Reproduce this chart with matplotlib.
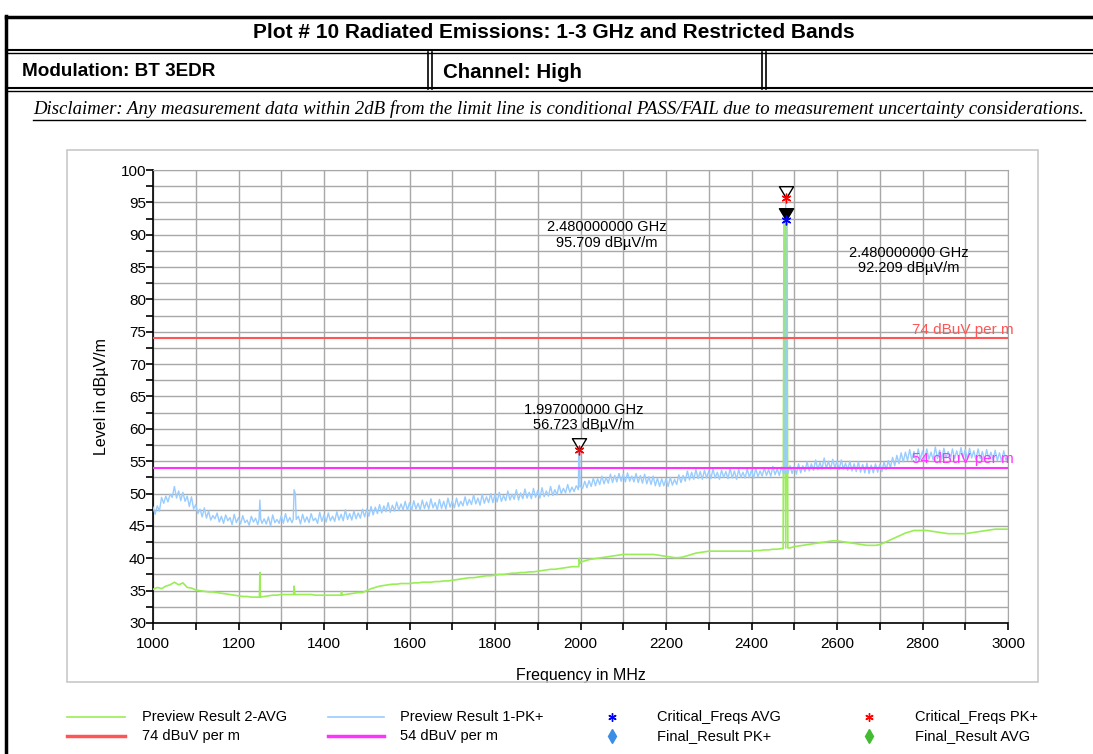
import numpy as np
import matplotlib
matplotlib.use('Agg')
import matplotlib.pyplot as plt
from matplotlib.lines import Line2D
from matplotlib.patches import Rectangle
from matplotlib.path import Path

# ---------------- data ----------------
freq_start = 1000

# Preview Result 1-PK+ (dBuV/m), one value every 5 MHz from 1000 to 3000 MHz
pk_step = 5
pk_grid = [
    47.9, 46.8, 48.1, 47.3, 49.4, 48.5, 49.6, 48.7, 49.9, 49.4, 51.1, 49.3, 50.4, 48.9, 50.2, 48.8, 49.6, 48.0, 49.5, 47.6,
    48.3, 46.9, 47.6, 46.4, 47.8, 46.2, 47.3, 45.9, 46.6, 46.1, 47.0, 45.6, 46.5, 45.4, 46.7, 45.8, 46.3, 45.2, 46.8, 45.5,
    46.3, 45.3, 46.6, 45.5, 45.9, 45.1, 46.5, 45.6, 46.2, 45.2, 46.8, 45.4, 46.1, 45.3, 46.4, 45.0, 46.7, 45.5, 46.0, 45.4,
    46.6, 45.4, 46.9, 45.6, 46.3, 45.5, 47.0, 45.7, 46.5, 45.3, 46.8, 45.6, 46.4, 45.5, 46.9, 45.8, 46.2, 45.4, 47.1, 45.7,
    46.7, 45.6, 47.0, 45.8, 46.5, 45.7, 47.2, 45.9, 46.8, 45.8, 47.5, 46.0, 46.9, 45.9, 47.3, 46.1, 47.0, 46.2, 47.6, 46.4,
    47.6, 46.5, 48.0, 46.7, 47.9, 46.9, 48.3, 47.0, 48.1, 47.2, 48.6, 47.1, 48.2, 47.3, 48.7, 47.4, 48.4, 47.5, 48.8, 47.4,
    48.6, 47.4, 48.9, 47.6, 48.5, 47.5, 49.0, 47.7, 48.7, 47.6, 49.2, 47.8, 48.6, 47.5, 49.1, 47.7, 48.8, 47.6, 49.3, 47.9,
    48.9, 47.8, 49.3, 48.0, 48.8, 48.1, 49.5, 48.2, 49.1, 48.3, 49.8, 48.4, 49.3, 48.2, 49.9, 48.5, 49.5, 48.6, 50.0, 48.6,
    49.9, 48.7, 50.2, 48.8, 49.7, 48.9, 50.4, 49.0, 49.9, 49.1, 50.6, 49.0, 50.1, 49.2, 50.7, 49.3, 50.2, 49.2, 50.8, 49.4,
    50.5, 49.3, 50.9, 49.5, 50.4, 49.6, 51.1, 49.7, 50.6, 49.8, 51.3, 50.0, 50.8, 50.1, 51.4, 50.2, 51.0, 50.3, 51.2, 50.6,
    51.2, 50.8, 51.9, 50.9, 52.0, 51.1, 52.4, 51.2, 52.3, 51.4, 52.7, 51.5, 52.5, 51.6, 53.0, 51.7, 52.8, 51.8, 53.1, 51.9,
    53.0, 51.8, 53.2, 51.9, 52.7, 51.8, 53.1, 51.7, 52.8, 51.6, 53.0, 51.5, 52.6, 51.4, 52.7, 51.2, 52.4, 51.1, 52.3, 51.2,
    52.3, 51.1, 52.5, 51.3, 52.2, 51.4, 52.9, 51.7, 52.8, 51.9, 53.5, 52.1, 53.3, 52.2, 53.7, 52.3, 53.4, 52.2, 53.6, 52.4,
    53.5, 52.3, 53.8, 52.4, 53.3, 52.2, 53.6, 52.5, 53.4, 52.3, 53.9, 52.4, 53.5, 52.2, 53.7, 52.5, 53.3, 52.4, 53.8, 52.5,
    53.6, 52.4, 53.9, 52.6, 53.5, 52.7, 54.0, 52.8, 53.7, 52.7, 54.2, 52.9, 53.8, 52.8, 54.1, 53.0, 53.4, 53.1, 54.3, 53.1,
    54.2, 53.0, 54.6, 53.2, 54.3, 53.4, 54.9, 53.5, 54.6, 53.6, 55.2, 53.7, 54.8, 53.8, 55.5, 53.9, 55.0, 53.8, 55.3, 54.0,
    55.0, 53.7, 55.2, 53.8, 54.7, 53.6, 55.0, 53.5, 54.6, 53.4, 54.9, 53.3, 54.5, 53.2, 54.7, 53.1, 54.4, 53.2, 54.6, 53.3,
    54.5, 53.4, 54.9, 53.7, 55.1, 54.0, 55.6, 54.3, 55.9, 54.6, 56.3, 54.9, 56.4, 55.1, 56.8, 55.2, 56.5, 55.0, 56.9, 55.3,
    56.6, 55.1, 56.9, 55.3, 56.4, 55.2, 57.2, 55.4, 56.7, 55.3, 57.0, 55.5, 56.5, 55.2, 56.9, 55.4, 56.6, 55.3, 57.1, 55.5,
    56.8, 55.3, 57.0, 55.5, 56.6, 55.2, 56.9, 55.4, 56.5, 55.1, 56.8, 55.3, 56.4, 55.2, 56.7, 55.1, 56.3, 55.0, 56.6, 55.2,
    55.8,
]
pk_spike_f = [1248, 1250, 1252, 1328, 1330, 1333, 1335,
              1994, 1996, 1998, 1999, 2478, 2480, 2482]
pk_spike_v = [46.0, 49.0, 46.0, 46.0, 50.6, 50.0, 46.0,
              50.8, 56.7, 56.5, 51.0, 53.3, 95.709, 53.4]

# Preview Result 2-AVG (dBuV/m), one value every 10 MHz from 1000 to 3000 MHz
avg_step = 10
avg_grid = [
    35.2, 35.5, 35.3, 35.7, 35.9, 36.3, 35.9, 36.2, 35.5, 35.4,
    35.1, 35.0, 34.9, 34.8, 34.8, 34.7, 34.6, 34.5, 34.4, 34.3,
    34.2, 34.1, 34.1, 34.0, 34.0, 34.0, 34.1, 34.2, 34.3, 34.3,
    34.4, 34.4, 34.4, 34.4, 34.4, 34.4, 34.4, 34.4, 34.3, 34.3,
    34.3, 34.3, 34.3, 34.3, 34.3, 34.4, 34.5, 34.6, 34.7, 34.7,
    35.0, 35.3, 35.5, 35.7, 35.8, 35.9, 36.0, 36.0, 36.1, 36.1,
    36.1, 36.2, 36.2, 36.3, 36.3, 36.3, 36.4, 36.4, 36.5, 36.5,
    36.6, 36.7, 36.8, 36.9, 37.0, 37.0, 37.1, 37.2, 37.3, 37.3,
    37.4, 37.5, 37.5, 37.6, 37.7, 37.7, 37.8, 37.8, 37.9, 37.9,
    38.0, 38.1, 38.2, 38.3, 38.3, 38.4, 38.5, 38.6, 38.7, 38.7,
    39.4, 39.6, 39.8, 39.9, 40.0, 40.1, 40.2, 40.3, 40.4, 40.5,
    40.6, 40.6, 40.6, 40.6, 40.6, 40.6, 40.6, 40.6, 40.5, 40.4,
    40.3, 40.2, 40.1, 40.1, 40.2, 40.4, 40.6, 40.8, 40.9, 41.0,
    41.1, 41.1, 41.1, 41.1, 41.1, 41.1, 41.1, 41.1, 41.1, 41.1,
    41.1, 41.2, 41.2, 41.3, 41.3, 41.4, 41.4, 41.5, 41.6, 41.6,
    41.8, 41.9, 42.0, 42.1, 42.2, 42.3, 42.4, 42.5, 42.6, 42.7,
    42.7, 42.6, 42.5, 42.4, 42.3, 42.2, 42.1, 42.0, 42.0, 42.0,
    42.1, 42.4, 42.7, 43.0, 43.3, 43.6, 43.9, 44.1, 44.3, 44.3,
    44.3, 44.3, 44.2, 44.1, 44.0, 43.9, 43.8, 43.8, 43.8, 43.8,
    43.8, 43.9, 44.0, 44.1, 44.2, 44.3, 44.4, 44.5, 44.5, 44.5,
    44.5,
]
avg_spike_f = [1249, 1250, 1251, 1329, 1330, 1332, 1440, 1441, 1442,
               1996, 1997, 1999, 2474, 2476, 2483, 2485]
avg_spike_v = [34.0, 37.8, 34.0, 34.4, 35.7, 34.4, 34.3, 34.9, 34.3,
               38.7, 40.0, 39.2, 41.5, 92.209, 92.0, 41.6]

limit_pk = 74.0
limit_avg = 54.0
limit_pk_label = "74 dBuV per m"
limit_avg_label = "54 dBuV per m"

crit_pk_f = [1997, 2480]
crit_pk_v = [56.723, 95.709]
crit_avg_f = [2480]
crit_avg_v = [92.209]

ann_text = ["2.480000000 GHz\n95.709 dBµV/m",
            "2.480000000 GHz\n92.209 dBµV/m",
            "1.997000000 GHz\n56.723 dBµV/m"]
ann_pos_f = [2062, 2768, 2008]
ann_pos_v = [90.0, 86.0, 61.75]

xticks = [1000, 1200, 1400, 1600, 1800, 2000, 2200, 2400, 2600, 2800, 3000]
yticks = [30, 35, 40, 45, 50, 55, 60, 65, 70, 75, 80, 85, 90, 95, 100]

title_text = "Plot # 10 Radiated Emissions: 1-3 GHz and Restricted Bands"
mod_text = "Modulation: BT 3EDR"
chan_text = "Channel: High"
disclaimer = ("Disclaimer: Any measurement data within 2dB from the limit line is "
              "conditional PASS/FAIL due to measurement uncertainty considerations.")

legend_labels = ["Preview Result 2-AVG", "74 dBuV per m",
                 "Preview Result 1-PK+", "54 dBuV per m",
                 "Critical_Freqs AVG", "Final_Result PK+",
                 "Critical_Freqs PK+", "Final_Result AVG"]


def merge(grid, step, sf, sv):
    d = {freq_start + i * step: v for i, v in enumerate(grid)}
    for f, v in zip(sf, sv):
        d[f] = v
    ks = sorted(d)
    return np.array(ks, float), np.array([d[k] for k in ks])


pk_f, pk_v = merge(pk_grid, pk_step, pk_spike_f, pk_spike_v)
avg_f, avg_v = merge(avg_grid, avg_step, avg_spike_f, avg_spike_v)

# ---------------- styling ----------------
W, H = 1093, 754
plt.rcParams['font.family'] = ['Liberation Sans', 'DejaVu Sans']
C_BLUE = '#99ccff'
C_GREEN = '#99ee55'
C_RED = '#ff5555'
C_MAG = '#ff33ff'
C_GRID = '#a8a8a8'

fig = plt.figure(figsize=(W / 100, H / 100), dpi=100)


def fx(x):
    return x / W


def fy(y):
    return 1 - y / H


def hline(y, x0, x1, lw=1.5, color='black'):
    fig.add_artist(Line2D([fx(x0), fx(x1)], [fy(y), fy(y)], color=color, lw=lw,
                          transform=fig.transFigure))


def vline(x, y0, y1, lw=1.5, color='black'):
    fig.add_artist(Line2D([fx(x), fx(x)], [fy(y0), fy(y1)], color=color, lw=lw,
                          transform=fig.transFigure))


# page / header table
hline(17, 6, W, lw=2.5)
vline(6, 16, H, lw=2.5)
hline(50, 6, W, lw=1.5)
hline(53, 6, W, lw=1.0)
hline(88, 6, W, lw=1.5)
hline(91, 6, W, lw=1.0)
vline(428, 52, 89, lw=1.2)
vline(432, 52, 89, lw=1.2)
vline(762, 52, 89, lw=1.2)
vline(766, 52, 89, lw=1.2)

hdr = ['Liberation Sans Narrow', 'Liberation Sans', 'DejaVu Sans']
fig.text(fx(554), fy(32), title_text, ha='center', va='center',
         fontsize=15, fontweight='bold', family=hdr)
fig.text(fx(22), fy(72), mod_text, ha='left', va='center',
         fontsize=13.6, fontweight='bold', family=hdr)
fig.text(fx(443), fy(72), chan_text, ha='left', va='center',
         fontsize=14.8, fontweight='bold', family=hdr)
fig.text(fx(559), fy(109), disclaimer, ha='center', va='center',
         fontsize=13.5, style='italic', family=['Liberation Serif', 'DejaVu Serif'])
hline(119.5, 33, 1085, lw=1.0)

# chart gray box
fig.add_artist(Rectangle((fx(67), fy(682)), fx(1038) - fx(67), fy(150) - fy(682),
                         fill=False, edgecolor='#c8c8c8', lw=1.2,
                         transform=fig.transFigure))

ax = fig.add_axes([fx(153), fy(623), fx(1008) - fx(153), fy(170) - fy(623)])
ax.set_xlim(1000, 3000)
ax.set_ylim(30, 100)
ax.set_xticks(xticks)
ax.set_xticks(np.arange(1100, 3000, 200), minor=True)
ax.set_yticks(yticks)
ax.set_yticks(np.arange(32.5, 100, 5), minor=True)
ax.grid(True, which='both', color=C_GRID, lw=1.0)
ax.set_axisbelow(True)
for s in ['top', 'right']:
    ax.spines[s].set_color(C_GRID)
for s in ['left', 'bottom']:
    ax.spines[s].set_color('black')
    ax.spines[s].set_linewidth(1.2)
ax.tick_params(which='both', direction='out', length=5, width=1.2, labelsize=11)
ax.tick_params(axis='x', pad=5)
ax.tick_params(axis='y', pad=0)

ax.plot(avg_f, avg_v, color=C_GREEN, lw=1.2, zorder=3)
ax.plot(pk_f, pk_v, color=C_BLUE, lw=1.0, zorder=4)
ax.axhline(limit_pk, color=C_RED, lw=1.5, zorder=5)
ax.axhline(limit_avg, color=C_MAG, lw=1.5, zorder=5)
ax.text(3014, limit_pk + 0.2, limit_pk_label, color=C_RED, ha='right', va='bottom',
        fontsize=11, clip_on=False, zorder=6)
ax.text(3014, limit_avg + 0.2, limit_avg_label, color=C_MAG, ha='right', va='bottom',
        fontsize=11, clip_on=False, zorder=6)

tri = Path([(-0.6, 1.0), (0.6, 1.0), (0.0, 0.0), (-0.6, 1.0)],
           [Path.MOVETO, Path.LINETO, Path.LINETO, Path.CLOSEPOLY])
ax.plot(crit_pk_f, crit_pk_v, ls='none', marker=tri, ms=17, mfc='white',
        mec='black', mew=1.0, zorder=7)
ax.plot(crit_avg_f, crit_avg_v, ls='none', marker=tri, ms=17, mfc='black',
        mec='black', mew=1.0, zorder=7)
ax.plot(crit_pk_f, crit_pk_v, ls='none', marker=(6, 2, 0), ms=7, mew=1.0,
        color='red', mec='red', zorder=8)
ax.plot(crit_avg_f, crit_avg_v, ls='none', marker=(6, 2, 0), ms=7, mew=1.0,
        color='blue', mec='blue', zorder=8)

for t, f, v in zip(ann_text, ann_pos_f, ann_pos_v):
    ax.text(f, v, t, ha='center', va='center', fontsize=10.5, linespacing=1.15,
            zorder=9)

ax.set_xlabel("Frequency in MHz", fontsize=11.5, labelpad=12)
ax.set_ylabel("Level in dBµV/m", fontsize=11.5, labelpad=8)

# legend (manual)
ly1, ly2 = 717, 736
fsz = 10.5
fig.add_artist(Line2D([fx(67), fx(125)], [fy(ly1)] * 2, color=C_GREEN, lw=1.2))
fig.add_artist(Line2D([fx(67), fx(125)], [fy(ly2)] * 2, color=C_RED, lw=2.5))
fig.text(fx(142), fy(ly1), legend_labels[0], va='center', fontsize=fsz)
fig.text(fx(142), fy(ly2), legend_labels[1], va='center', fontsize=fsz)
fig.add_artist(Line2D([fx(328), fx(384)], [fy(ly1)] * 2, color=C_BLUE, lw=1.2))
fig.add_artist(Line2D([fx(328), fx(384)], [fy(ly2)] * 2, color=C_MAG, lw=2.5))
fig.text(fx(400), fy(ly1), legend_labels[2], va='center', fontsize=fsz)
fig.text(fx(400), fy(ly2), legend_labels[3], va='center', fontsize=fsz)
fig.add_artist(Line2D([fx(612)], [fy(ly1)], ls='none', marker=(6, 2, 0), ms=6,
                      mew=1.0, color='blue', mec='blue'))
fig.add_artist(Line2D([fx(612)], [fy(ly2)], ls='none', marker='d', ms=7,
                      color='#3a8ee6', mec='#3a8ee6'))
fig.text(fx(657), fy(ly1), legend_labels[4], va='center', fontsize=fsz)
fig.text(fx(657), fy(ly2), legend_labels[5], va='center', fontsize=fsz)
fig.add_artist(Line2D([fx(869)], [fy(ly1)], ls='none', marker=(6, 2, 0), ms=6,
                      mew=1.0, color='red', mec='red'))
fig.add_artist(Line2D([fx(869)], [fy(ly2)], ls='none', marker='d', ms=7,
                      color='#44bb33', mec='#44bb33'))
fig.text(fx(915), fy(ly1), legend_labels[6], va='center', fontsize=fsz)
fig.text(fx(915), fy(ly2), legend_labels[7], va='center', fontsize=fsz)

fig.savefig('out.png', dpi=100)
